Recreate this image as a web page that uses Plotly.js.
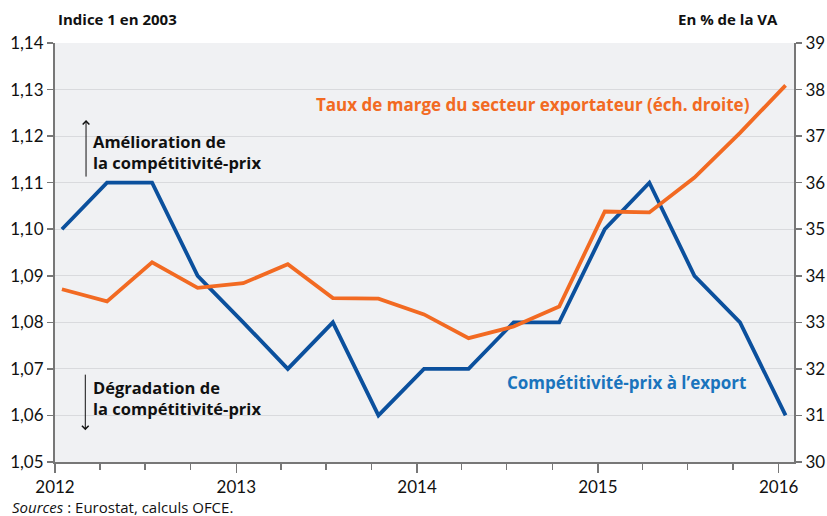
<!DOCTYPE html>
<html>
<head>
<meta charset="utf-8">
<script src="https://cdn.plot.ly/plotly-3.0.1.min.js"></script>
<style>html,body{margin:0;padding:0;background:#fff;}#chart{width:827px;height:516px;}</style>
</head>
<body>
<div id="chart"></div>
<script>
const dates = ['2012-01-15','2012-04-15','2012-07-15','2012-10-15',
               '2013-01-15','2013-04-15','2013-07-15','2013-10-15',
               '2014-01-15','2014-04-15','2014-07-15','2014-10-15',
               '2015-01-15','2015-04-15','2015-07-15','2015-10-15',
               '2016-01-15'];
const competitivite = [1.10,1.11,1.11,1.09, 1.08,1.07,1.08,1.06, 1.07,1.07,1.08,1.08, 1.10,1.11,1.09,1.08, 1.06];
const tauxMarge = [33.71,33.45,34.29,33.74, 33.84,34.25,33.52,33.51, 33.17,32.66,32.91,33.34, 35.38,35.36,36.11,37.07, 38.09];
const yearTicks = ['2012-01-01','2013-01-01','2014-01-01','2015-01-01','2016-01-01'];
const yearLabels = ['2012','2013','2014','2015','2016'];

const FONT = 'Lato, "Open Sans", sans-serif';
const AFONT = '"Open Sans", "Noto Sans", sans-serif';
const BLUE = '#0b509d';
const ORANGE = '#f26a22';

const traces = [
  {x: dates, y: competitivite, type:'scatter', mode:'lines', yaxis:'y',
   line:{color:BLUE, width:3.8}, hoverinfo:'skip'},
  {x: dates, y: tauxMarge, type:'scatter', mode:'lines', yaxis:'y2',
   line:{color:ORANGE, width:3.8}, hoverinfo:'skip'}
];

const layout = {
  width:827, height:516,
  margin:{l:55, r:33, t:43, b:54},
  paper_bgcolor:'#ffffff', plot_bgcolor:'#f0f1f3',
  separators:',.',
  showlegend:false,
  font:{family:FONT, size:17, color:'#111'},
  xaxis:{type:'date', range:['2012-01-01','2016-02-01'],
    tickvals:yearTicks, ticktext:yearLabels,
    ticks:'outside', ticklen:9, tickwidth:1.5, tickcolor:'#777',
    showgrid:false, showline:true, linecolor:'#777', linewidth:2,
    tickfont:{size:17, family:FONT, color:'#111'},
    minor:{dtick:'M3', tick0:'2012-01-01', ticks:'outside', ticklen:6, tickwidth:1.5, tickcolor:'#777', showgrid:false},
    zeroline:false, fixedrange:true},
  yaxis:{range:[1.05,1.14], dtick:0.01, tick0:1.05, tickformat:'.2f',
    ticks:'outside', ticklen:6, tickwidth:1.5, tickcolor:'#777',
    showline:true, linecolor:'#777', linewidth:2,
    gridcolor:'#d9dadd', gridwidth:1, zeroline:false,
    tickfont:{size:17, family:FONT, color:'#111'}},
  yaxis2:{range:[30,39], dtick:1, overlaying:'y', side:'right',
    ticks:'outside', ticklen:6, tickwidth:1.5, tickcolor:'#777',
    showline:true, linecolor:'#777', linewidth:2,
    showgrid:false, zeroline:false,
    tickfont:{size:17, family:FONT, color:'#111'}},
  annotations:[
    {xref:'paper', yref:'paper', x:0.001, y:1.057, xanchor:'left', yanchor:'middle', showarrow:false,
     text:'<b>Indice 1 en 2003</b>', font:{size:15, family:AFONT, color:'#111'}},
    {xref:'paper', yref:'paper', x:0.981, y:1.057, xanchor:'right', yanchor:'middle', showarrow:false,
     text:'<b>En % de la VA</b>', font:{size:15, family:AFONT, color:'#111'}},
    {xref:'paper', yref:'paper', x:0.943, y:0.854, xanchor:'right', yanchor:'middle', showarrow:false,
     text:'<b>Taux de marge du secteur exportateur (éch. droite)</b>', font:{size:17, family:AFONT, color:ORANGE}},
    {xref:'paper', yref:'paper', x:0.938, y:0.189, xanchor:'right', yanchor:'middle', showarrow:false,
     text:'<b>Compétitivité-prix à l’export</b>', font:{size:17, family:AFONT, color:'#1a74bd'}},
    {xref:'paper', yref:'paper', x:0.049, y:0.740, xanchor:'left', yanchor:'middle', showarrow:false, align:'left',
     text:'<b>Amélioration de<br>la compétitivité-prix</b>', font:{size:16.5, family:AFONT, color:'#111'}},
    {xref:'paper', yref:'paper', x:0.049, y:0.153, xanchor:'left', yanchor:'middle', showarrow:false, align:'left',
     text:'<b>Dégradation de<br>la compétitivité-prix</b>', font:{size:16.5, family:AFONT, color:'#111'}},
    {xref:'paper', yref:'paper', x:0.042, y:0.816, text:'', showarrow:true, ax:0, ay:58,
     arrowhead:4, arrowsize:1.3, arrowwidth:1, arrowcolor:'#111'},
    {xref:'paper', yref:'paper', x:0.041, y:0.076, text:'', showarrow:true, ax:0, ay:-57,
     arrowhead:4, arrowsize:1.3, arrowwidth:1, arrowcolor:'#111'},
    {xref:'paper', yref:'paper', x:-0.061, y:-0.107, xanchor:'left', yanchor:'middle', showarrow:false,
     text:'<i>Sources</i> : Eurostat, calculs OFCE.', font:{size:15, family:AFONT, color:'#111'}}
  ]
};

Plotly.newPlot('chart', traces, layout, {staticPlot:true, displayModeBar:false});
</script>
</body>
</html>
